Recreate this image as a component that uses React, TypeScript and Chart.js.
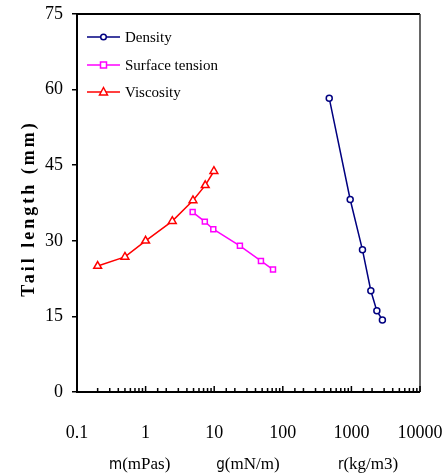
import React, { useEffect, useRef } from "react";
import { Chart, registerables } from "chart.js";

Chart.register(...registerables);

const densityX = [475, 960, 1450, 1920, 2350, 2830];
const densityY = [58.3, 38.2, 28.2, 20.1, 16.1, 14.3];
const surfaceX = [4.85, 7.3, 9.7, 23.7, 48, 72];
const surfaceY = [35.7, 33.8, 32.3, 29.0, 26.0, 24.3];
const viscX = [0.2, 0.5, 1.0, 2.45, 4.9, 7.4, 9.9];
const viscY = [25.0, 26.8, 30.0, 33.9, 38.0, 41.0, 43.8];

const seriesNames = ["Density", "Surface tension", "Viscosity"];
const seriesColors = ["#000080", "#FF00FF", "#FF0000"];
const seriesMarkers = ["circle", "rect", "triangle"];
const yTitle = "Tail length (mm)";
const xTitles = [
  { sym: "m", rest: "(mPas)", at: 0.82 },
  { sym: "g", rest: "(mN/m)", at: 31 },
  { sym: "r", rest: "(kg/m3)", at: 1750 },
];

const SERIF = "'Liberation Serif', 'Times New Roman', serif";

function drawMarker(ctx: CanvasRenderingContext2D, kind: string, x: number, y: number, color: string) {
  ctx.save();
  ctx.strokeStyle = color;
  ctx.fillStyle = "#fff";
  ctx.lineWidth = 1.5;
  ctx.beginPath();
  if (kind === "circle") {
    ctx.arc(x, y, 2.8, 0, Math.PI * 2);
  } else if (kind === "rect") {
    ctx.rect(x - 3, y - 3, 6, 6);
  } else {
    ctx.moveTo(x, y - 4.5);
    ctx.lineTo(x + 4, y + 3);
    ctx.lineTo(x - 4, y + 3);
    ctx.closePath();
  }
  ctx.fill();
  ctx.stroke();
  ctx.restore();
}

const decorPlugin = {
  id: "decor",
  afterDraw(chart: any) {
    const ctx: CanvasRenderingContext2D = chart.ctx;
    const { left, right, top, bottom } = chart.chartArea;
    const xs = chart.scales.x;
    ctx.save();
    // frame
    ctx.strokeStyle = "#000";
    ctx.lineWidth = 2;
    ctx.beginPath();
    ctx.moveTo(right, top);
    ctx.lineTo(left, top);
    ctx.lineTo(left, bottom);
    ctx.lineTo(right, bottom);
    ctx.stroke();
    ctx.strokeStyle = "#333";
    ctx.lineWidth = 1.5;
    ctx.beginPath();
    ctx.moveTo(right, top);
    ctx.lineTo(right, bottom);
    ctx.stroke();
    // inner x ticks
    ctx.strokeStyle = "#000";
    ctx.lineWidth = 1.5;
    xs.ticks.forEach((t: any) => {
      const px = xs.getPixelForValue(t.value);
      const lg = Math.log10(t.value);
      const major = Math.abs(lg - Math.round(lg)) < 1e-6;
      ctx.beginPath();
      ctx.moveTo(px, bottom);
      ctx.lineTo(px, bottom - (major ? 6 : 4));
      ctx.stroke();
    });
    // x titles
    ctx.fillStyle = "#000";
    ctx.textBaseline = "middle";
    xTitles.forEach((tt) => {
      const cx = xs.getPixelForValue(tt.at);
      ctx.font = "15px 'DejaVu Sans Condensed', 'DejaVu Sans', sans-serif";
      const w1 = ctx.measureText(tt.sym).width;
      ctx.font = "17px " + SERIF;
      const w2 = ctx.measureText(tt.rest).width;
      const x0 = cx - (w1 + w2) / 2;
      ctx.textAlign = "left";
      ctx.font = "15px 'DejaVu Sans Condensed', 'DejaVu Sans', sans-serif";
      ctx.fillText(tt.sym, x0, 465);
      ctx.font = "17px " + SERIF;
      ctx.fillText(tt.rest, x0 + w1, 465);
    });
    // y title
    ctx.save();
    ctx.translate(29, 210);
    ctx.rotate(-Math.PI / 2);
    ctx.textAlign = "center";
    ctx.textBaseline = "middle";
    ctx.font = "bold 18px " + SERIF;
    (ctx as any).letterSpacing = "3px";
    ctx.fillText(yTitle, 1.5, 0);
    ctx.restore();
    // legend
    const rows = [37, 65, 92];
    seriesNames.forEach((name, i) => {
      const y = rows[i];
      ctx.strokeStyle = seriesColors[i];
      ctx.lineWidth = 1.5;
      ctx.beginPath();
      ctx.moveTo(87, y);
      ctx.lineTo(120, y);
      ctx.stroke();
      drawMarker(ctx, seriesMarkers[i], 103.5, y, seriesColors[i]);
      ctx.fillStyle = "#000";
      ctx.textAlign = "left";
      ctx.textBaseline = "middle";
      ctx.font = "15px " + SERIF;
      ctx.fillText(name, 125, y + 1);
    });
    ctx.restore();
  },
};

export default function App() {
  const ref = useRef<HTMLCanvasElement>(null);
  useEffect(() => {
    if (!ref.current) return;
    const mk = (xs: number[], ys: number[]) => xs.map((x, i) => ({ x, y: ys[i] }));
    const datasets = [
      { label: seriesNames[0], data: mk(densityX, densityY) },
      { label: seriesNames[1], data: mk(surfaceX, surfaceY) },
      { label: seriesNames[2], data: mk(viscX, viscY) },
    ].map((d, i) => ({
      ...d,
      borderColor: seriesColors[i],
      backgroundColor: "#fff",
      pointBorderColor: seriesColors[i],
      pointBackgroundColor: "#fff",
      pointStyle: seriesMarkers[i] as any,
      pointRadius: i === 0 ? 3 : i === 1 ? 3.5 : 4.5,
      pointBorderWidth: 1.5,
      borderWidth: 1.5,
      showLine: true,
      tension: 0,
    }));
    const chart = new Chart(ref.current, {
      type: "scatter",
      data: { datasets },
      options: {
        animation: false,
        responsive: false,
        devicePixelRatio: 1,
        layout: { padding: { top: 14, right: 27, left: 0, bottom: 0 } },
        plugins: { legend: { display: false }, tooltip: { enabled: false } },
        scales: {
          x: {
            type: "logarithmic",
            min: 0.1,
            max: 10000,
            grid: { display: false },
            border: { display: false },
            afterFit: (s: any) => {
              s.height = 83;
              s.paddingLeft = 0;
              s.paddingRight = 0;
            },
            ticks: {
              autoSkip: false,
              maxRotation: 0,
              padding: 22,
              color: "#000",
              font: { family: SERIF, size: 18 },
              callback: (v: any) => {
                const val = Number(v);
                const lg = Math.log10(val);
                if (Math.abs(lg - Math.round(lg)) > 1e-6) return "";
                return val < 1 ? "0.1" : String(Math.round(val));
              },
            },
          },
          y: {
            min: 0,
            max: 75,
            grid: { drawOnChartArea: false, drawTicks: true, tickLength: 5, color: "#000", lineWidth: 1.5 },
            border: { display: false },
            afterFit: (s: any) => {
              s.width = 77;
              s.paddingTop = 0;
              s.paddingBottom = 0;
            },
            ticks: {
              stepSize: 15,
              padding: 9,
              color: "#000",
              font: { family: SERIF, size: 18 },
            },
          },
        },
      },
      plugins: [decorPlugin],
    });
    return () => chart.destroy();
  }, []);
  return (
    <div style={{ position: "absolute", left: 0, top: 0, width: 447, height: 475, background: "#fff" }}>
      <canvas ref={ref} width={447} height={475} />
    </div>
  );
}
